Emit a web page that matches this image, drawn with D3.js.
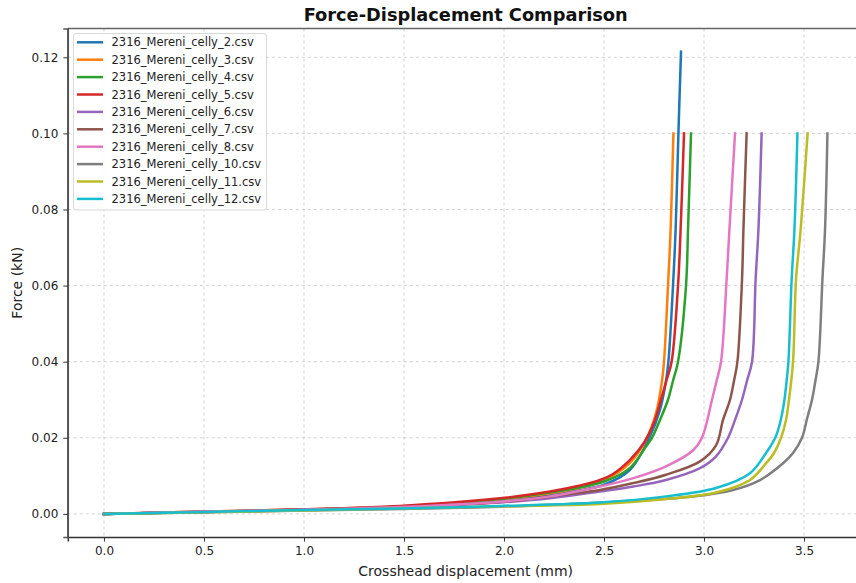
<!DOCTYPE html>
<html>
<head>
<meta charset="utf-8">
<script src="https://cdn.jsdelivr.net/npm/d3@7"></script>
<style>
  html, body { margin: 0; padding: 0; background: #fff; }
  svg { display: block; font-family: "DejaVu Sans", sans-serif; }
</style>
</head>
<body>
<svg id="chart" width="856" height="583"></svg>
<script>
// ---- data (displacement mm, force kN) ----
const seriesNames = [
  "2316_Mereni_celly_2.csv", "2316_Mereni_celly_3.csv", "2316_Mereni_celly_4.csv",
  "2316_Mereni_celly_5.csv", "2316_Mereni_celly_6.csv", "2316_Mereni_celly_7.csv",
  "2316_Mereni_celly_8.csv", "2316_Mereni_celly_10.csv", "2316_Mereni_celly_11.csv",
  "2316_Mereni_celly_12.csv"
];
const colors = ["#1f77b4", "#ff7f0e", "#2ca02c", "#d62728", "#9467bd",
                "#8c564b", "#e377c2", "#7f7f7f", "#bcbd22", "#17becf"];

const celly2 = [[0,0],[0.5,0.0005],[1.0,0.0011],[1.5,0.0019],[2.0,0.0038],[2.25,0.0053],[2.5,0.0077],[2.63,0.0116],[2.73,0.0204],[2.78,0.0274],[2.81,0.035],[2.822,0.04],[2.845,0.06],[2.858,0.0747],[2.872,0.10],[2.885,0.1215]];
const celly3 = [[0,0],[0.5,0.0006],[1.0,0.0012],[1.5,0.002],[2.0,0.0039],[2.375,0.0068],[2.5,0.0088],[2.63,0.0134],[2.71,0.0195],[2.76,0.0265],[2.79,0.035],[2.80,0.04],[2.82,0.06],[2.833,0.0747],[2.847,0.10]];
const celly4 = [[0,0],[0.5,0.0005],[1.0,0.0011],[1.5,0.002],[2.0,0.004],[2.25,0.0058],[2.5,0.0085],[2.63,0.0121],[2.71,0.0177],[2.74,0.02],[2.78,0.0247],[2.82,0.03],[2.845,0.035],[2.87,0.04],[2.91,0.06],[2.92,0.0747],[2.935,0.10]];
const celly5 = [[0,0],[0.5,0.0006],[1.0,0.0012],[1.48,0.0021],[1.98,0.0041],[2.23,0.0059],[2.375,0.0074],[2.48,0.0089],[2.545,0.0105],[2.63,0.0142],[2.70,0.0187],[2.75,0.024],[2.79,0.031],[2.812,0.035],[2.838,0.04],[2.87,0.06],[2.883,0.0747],[2.90,0.10]];
const celly6 = [[0,0],[0.5,0.0005],[1.0,0.001],[1.5,0.0017],[1.98,0.003],[2.23,0.0041],[2.48,0.0059],[2.647,0.0072],[2.81,0.0089],[2.98,0.012],[3.06,0.0151],[3.12,0.02],[3.155,0.0247],[3.19,0.03],[3.215,0.035],[3.24,0.04],[3.258,0.0616],[3.272,0.0747],[3.288,0.10]];
const celly7 = [[0,0],[0.5,0.0005],[1.0,0.0011],[1.5,0.0018],[1.98,0.0031],[2.23,0.0046],[2.48,0.0063],[2.647,0.0081],[2.81,0.0103],[2.98,0.0138],[3.06,0.018],[3.095,0.0247],[3.13,0.03],[3.15,0.035],[3.167,0.04],[3.19,0.0616],[3.197,0.0747],[3.213,0.10]];
const celly8 = [[0,0],[0.5,0.0006],[1.0,0.0011],[1.48,0.0018],[1.98,0.0032],[2.23,0.0046],[2.48,0.0072],[2.647,0.0094],[2.81,0.0125],[2.947,0.0168],[2.99,0.02],[3.04,0.03],[3.063,0.035],[3.085,0.04],[3.113,0.0616],[3.127,0.0747],[3.155,0.10]];
const celly10 = [[0,0],[0.5,0.0004],[1.0,0.0009],[1.5,0.0013],[1.98,0.0019],[2.56,0.0032],[2.945,0.0046],[3.145,0.0063],[3.28,0.0089],[3.395,0.0133],[3.445,0.016],[3.49,0.02],[3.515,0.025],[3.54,0.03],[3.557,0.035],[3.572,0.04],[3.592,0.0616],[3.605,0.0747],[3.617,0.10]];
const celly11 = [[0,0],[0.5,0.0004],[1.0,0.0009],[1.5,0.0014],[2.0,0.002],[2.48,0.0026],[2.81,0.0039],[3.06,0.0056],[3.23,0.0089],[3.31,0.0133],[3.35,0.016],[3.385,0.02],[3.41,0.0247],[3.425,0.03],[3.445,0.04],[3.46,0.0616],[3.483,0.0747],[3.518,0.10]];
const celly12 = [[0,0],[0.5,0.0005],[1.0,0.001],[1.48,0.0014],[1.98,0.0021],[2.48,0.003],[2.81,0.0046],[3.06,0.0068],[3.23,0.0107],[3.31,0.016],[3.36,0.0205],[3.385,0.025],[3.402,0.03],[3.413,0.035],[3.422,0.04],[3.438,0.0616],[3.452,0.0747],[3.467,0.10]];

const seriesData = [celly2, celly3, celly4, celly5, celly6, celly7, celly8, celly10, celly11, celly12];

const xTicks = [0.0, 0.5, 1.0, 1.5, 2.0, 2.5, 3.0, 3.5];
const yTicks = [0.00, 0.02, 0.04, 0.06, 0.08, 0.10, 0.12];

const titleText = "Force-Displacement Comparison";
const xLabel = "Crosshead displacement (mm)";
const yLabel = "Force (kN)";

// ---- layout ----
const svg = d3.select("#chart");
const mLeft = 67.8, mRight = 863.6, mTop = 28.5, mBottom = 537;

const allX = seriesData.flat().map(d => d[0]);
const allY = seriesData.flat().map(d => d[1]);
const xMin = d3.min(allX), xMax = d3.max(allX);
const yMin = d3.min(allY), yMax = d3.max(allY);
const xPad = (xMax - xMin) * 0.05, yPad = (yMax - yMin) * 0.05;

const x = d3.scaleLinear().domain([xMin - xPad, xMax + xPad]).range([mLeft, mRight]);
const y = d3.scaleLinear().domain([yMin - yPad, yMax + yPad]).range([mBottom, mTop]);

// grid
const grid = svg.append("g");
grid.selectAll("line.gx").data(xTicks).join("line")
  .attr("x1", d => x(d)).attr("x2", d => x(d))
  .attr("y1", mTop).attr("y2", mBottom)
  .attr("stroke", "#b0b0b0").attr("stroke-opacity", 0.7)
  .attr("stroke-width", 0.8).attr("stroke-dasharray", "3,3");
grid.selectAll("line.gy").data(yTicks).join("line")
  .attr("x1", mLeft).attr("x2", mRight)
  .attr("y1", d => y(d)).attr("y2", d => y(d))
  .attr("stroke", "#b0b0b0").attr("stroke-opacity", 0.7)
  .attr("stroke-width", 0.8).attr("stroke-dasharray", "3,3");

// lines
const line = d3.line().x(d => x(d[0])).y(d => y(d[1])).curve(d3.curveCatmullRom.alpha(0.5));
svg.append("g").selectAll("path").data(seriesData).join("path")
  .attr("d", d => line(d))
  .attr("fill", "none")
  .attr("stroke", (d, i) => colors[i])
  .attr("stroke-width", 2.5)
  .attr("stroke-linejoin", "round")
  .attr("stroke-linecap", "square");

// spines
svg.append("line").attr("x1", mLeft).attr("x2", mRight).attr("y1", mTop).attr("y2", mTop)
  .attr("stroke", "#666").attr("stroke-width", 1.5);
svg.append("line").attr("x1", mLeft).attr("x2", mLeft).attr("y1", mTop).attr("y2", mBottom)
  .attr("stroke", "#555").attr("stroke-width", 1.5);

// axes
const xAxis = svg.append("g").attr("transform", `translate(0,${mBottom})`)
  .call(d3.axisBottom(x).tickValues(xTicks).tickFormat(d3.format(".1f")).tickSizeOuter(0).tickSize(4.5).tickPadding(5));
const yAxis = svg.append("g").attr("transform", `translate(${mLeft},0)`)
  .call(d3.axisLeft(y).tickValues(yTicks).tickFormat(d3.format(".2f")).tickSizeOuter(0).tickSize(4.5).tickPadding(5));
[xAxis, yAxis].forEach(a => {
  a.selectAll("text").attr("font-size", 12).attr("font-family", "DejaVu Sans").attr("fill", "#222");
  a.selectAll(".tick line").attr("stroke", "#333").attr("stroke-width", 1);
});
xAxis.select(".domain").attr("stroke", "#333").attr("stroke-width", 1.5);
yAxis.select(".domain").attr("stroke", "#555").attr("stroke-width", 1.5);

// title & labels
svg.append("text").attr("x", (mLeft + mRight) / 2).attr("y", 20.5)
  .attr("text-anchor", "middle").attr("font-size", 17.8).attr("font-weight", "bold")
  .attr("fill", "#111").text(titleText);
svg.append("text").attr("x", (mLeft + mRight) / 2).attr("y", 576)
  .attr("text-anchor", "middle").attr("font-size", 14).attr("fill", "#222").text(xLabel);
svg.append("text").attr("transform", `translate(22,${(mTop + mBottom) / 2}) rotate(-90)`)
  .attr("text-anchor", "middle").attr("font-size", 14).attr("fill", "#222").text(yLabel);

// legend
const lg = svg.append("g");
lg.append("rect").attr("x", 73.5).attr("y", 33.5).attr("width", 193).attr("height", 176.5)
  .attr("rx", 2.5).attr("fill", "#fff").attr("fill-opacity", 0.85)
  .attr("stroke", "#d9d9d9").attr("stroke-width", 1);
const items = lg.selectAll("g.item").data(seriesNames).join("g")
  .attr("transform", (d, i) => `translate(0,${42.3 + i * 17.4})`);
items.append("line").attr("x1", 77).attr("x2", 103).attr("y1", 0).attr("y2", 0)
  .attr("stroke", (d, i) => colors[i]).attr("stroke-width", 2.5);
items.append("text").attr("x", 111.5).attr("y", 4.1).attr("font-size", 11.5)
  .attr("fill", "#222").text(d => d);
</script>
</body>
</html>
